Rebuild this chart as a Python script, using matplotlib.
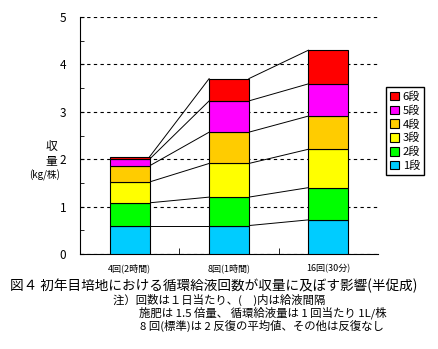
#!/usr/bin/env python3
"""
Stacked yield by tier for different recirculation frequencies.
"""

import numpy as np
import matplotlib
matplotlib.use('Agg')
import matplotlib.pyplot as plt
from matplotlib.ticker import MultipleLocator

plt.rcParams['font.family'] = ['Noto Sans CJK JP', 'DejaVu Sans']

categories = ['4回(2時間)', '8回(1時間)', '16回(30分)']
tiers = ['1段', '2段', '3段', '4段', '5段', '6段']
# yield per tier (kg/株), bottom to top
tier1 = [0.60, 0.60, 0.72]
tier2 = [0.48, 0.60, 0.68]
tier3 = [0.44, 0.71, 0.81]
tier4 = [0.34, 0.66, 0.70]
tier5 = [0.14, 0.66, 0.68]
tier6 = [0.05, 0.47, 0.71]
colors = ['#00CCFF', '#00FF00', '#FFFF00', '#FFCC00', '#FF00FF', '#FF0000']

title = '図４ 初年目培地における循環給液回数が収量に及ぼす影響(半促成)'
notes = ['注）回数は１日当たり、(　)内は給液間隔',
         '施肥は 1.5 倍量、 循環給液量は 1 回当たり 1L/株',
         '8 回(標準)は 2 反復の平均値、その他は反復なし']

W, H = 439, 349
fig = plt.figure(figsize=(W / 100, H / 100), dpi=100)
ax = fig.add_axes([80 / W, 1 - 254 / H, 298 / W, 237 / H])

x = np.arange(len(categories))
width = 0.4
data = np.array([tier1, tier2, tier3, tier4, tier5, tier6])
bottom = np.zeros(len(categories))
handles = []
for vals, name, col in zip(data, tiers, colors):
    h = ax.bar(x, vals, width, bottom=bottom, color=col, edgecolor='black',
               linewidth=0.8, label=name, zorder=3)
    handles.append(h)
    bottom = bottom + vals

# lines joining segment tops between neighbouring bars
tops = np.cumsum(data, axis=0)
for row in tops:
    for i in range(len(categories) - 1):
        ax.plot([x[i] + width / 2, x[i + 1] - width / 2], [row[i], row[i + 1]],
                color='black', linewidth=0.7, zorder=2)

ax.set_xlim(-0.5, 2.5)
ax.set_ylim(0, 5)
ax.set_xticks(x)
ax.set_xticklabels(categories, fontsize=6.5)
ax.set_xticks([0.5, 1.5], minor=True)
ax.tick_params(axis='x', which='major', length=0, pad=7)
ax.tick_params(axis='x', which='minor', length=4, direction='in')
ax.yaxis.set_major_locator(MultipleLocator(1))
ax.yaxis.set_minor_locator(MultipleLocator(0.5))
ax.tick_params(axis='y', which='both', direction='in', length=3, labelsize=8.5, pad=10)
ax.grid(axis='y', which='major', color='black', linestyle=(0, (3, 3)), linewidth=0.8, zorder=1)
for side in ['top', 'right']:
    ax.spines[side].set_visible(False)

fig.text(51 / W, 1 - 146 / H, '収', fontsize=8.5, ha='center', va='center')
fig.text(51 / W, 1 - 161 / H, '量', fontsize=8.5, ha='center', va='center')
fig.text(45 / W, 1 - 175 / H, '(kg/株)', fontsize=7, ha='center', va='center')

ax.legend(handles[::-1], tiers[::-1], loc='upper left', bbox_to_anchor=(386 / W, 1 - 87 / H),
          bbox_transform=fig.transFigure, fontsize=8, frameon=True, fancybox=False,
          edgecolor='black', framealpha=1, handlelength=0.8, handleheight=0.8,
          handletextpad=0.3, borderpad=0.4, labelspacing=0.3, borderaxespad=0)

fig.text(10 / W, 1 - 286 / H, title, fontsize=9.8, ha='left', va='center')
fig.text(113 / W, 1 - 300 / H, notes[0], fontsize=8.2, ha='left', va='center')
fig.text(139 / W, 1 - 313 / H, notes[1], fontsize=8.2, ha='left', va='center')
fig.text(140 / W, 1 - 326 / H, notes[2], fontsize=8.2, ha='left', va='center')

fig.savefig('out.png', dpi=100)
